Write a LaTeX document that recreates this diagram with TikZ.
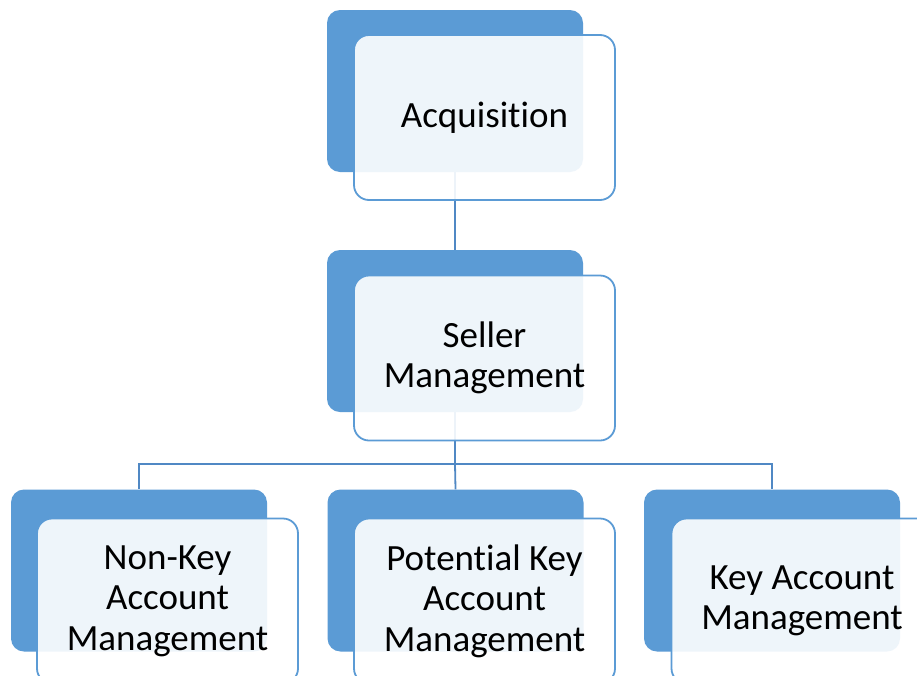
\documentclass[tikz,border=0pt]{standalone}
\usepackage{fontspec}
\setmainfont[Ligatures=NoCommon]{Carlito}
\definecolor{backblue}{HTML}{5B9BD5}
\definecolor{edgeblue}{HTML}{5B9BD5}
\definecolor{linkblue}{HTML}{5088C4}
\tikzset{
  backcard/.style={rectangle, rounded corners=13pt, fill=backblue, draw=none,
    minimum width=256pt, minimum height=162pt, inner sep=0pt},
  frontcard/.style={rectangle, rounded corners=15pt, draw=edgeblue, line width=1.8pt,
    fill=white, fill opacity=0.9, text opacity=1, text=black,
    minimum width=261pt, minimum height=165pt, inner sep=0pt, align=center,
    font=\fontsize{37}{40.5}\selectfont},
  link/.style={draw=linkblue, line width=1.8pt}
}
\begin{document}
\begin{tikzpicture}[x=1pt,y=-1pt]
\useasboundingbox (0,0) rectangle (917,675);
\clip (0,0) rectangle (917,675);
\fill[white] (0,0) rectangle (917,675);
% back cards
\node[backcard] (b1) at (455,91) {};
\node[backcard] (b2) at (455,331) {};
\node[backcard] (b3) at (139,570.5) {};
\node[backcard] (b4) at (455.5,570.5) {};
\node[backcard] (b5) at (772,570.5) {};
% connectors
\coordinate (hub) at (455,464);
\draw[link] (b1.south) -- (b2.north);
\draw[link] (b2.south) -- (hub);
\draw[link] (hub) -| (b3.north);
\draw[link] (hub) -- (b4.north);
\draw[link] (hub) -| (b5.north);
% front cards
\node[frontcard] (f1) at (484.5,117.5) {\raisebox{-1.5pt}{Acquisition}};
\node[frontcard] (f2) at (484.5,358) {Seller\\Management};
\node[frontcard] (f3) at (167.5,601) {Non-Key\\Account\\Management};
\node[frontcard] (f4) at (484.5,601) {Potential Key\\Account\\Management};
\node[frontcard] (f5) at (802,601) {Key Account\\Management};
\end{tikzpicture}
\end{document}
